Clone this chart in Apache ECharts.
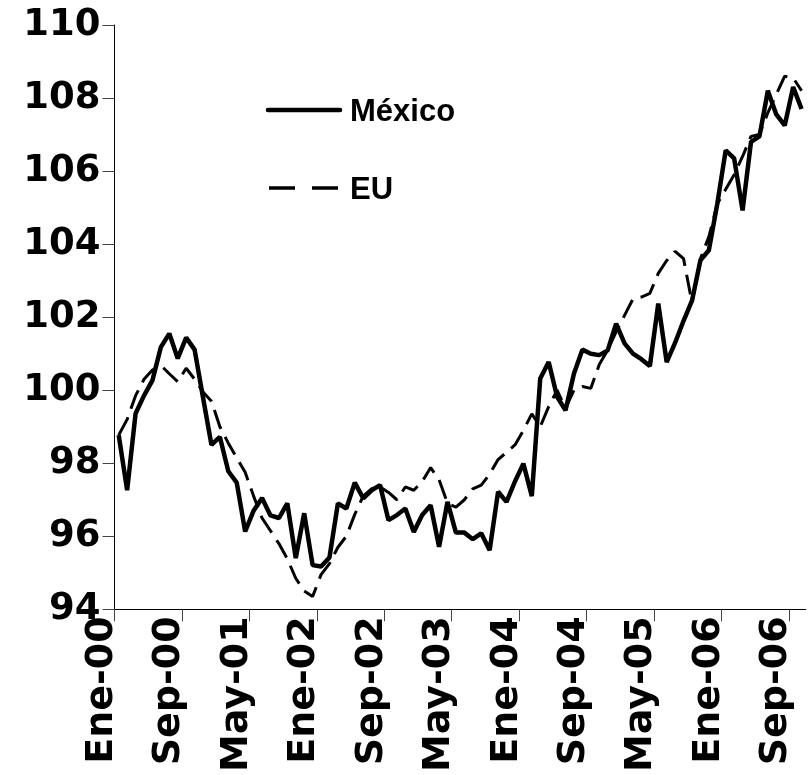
<!DOCTYPE html>
<html><head><meta charset="utf-8">
<script src="https://cdn.jsdelivr.net/npm/echarts@6/dist/echarts.min.js"></script>
<style>html,body{margin:0;padding:0;background:#fff}#c{width:808px;height:775px}</style>
</head><body><div id="c"></div>
<script>
const monthNames = ['Ene','Feb','Mar','Abr','May','Jun','Jul','Ago','Sep','Oct','Nov','Dic'];
// monthly categories Ene-00 .. Oct-06
const categories = [];
for (let y = 0; y < 7; y++) for (let m = 0; m < 12; m++) {
  if (categories.length < 82) categories.push(monthNames[m] + '-0' + y);
}
// tick labels sit on the category boundaries (one more than categories)
const tickLabels = categories.concat(['Nov-06']);

const mexico = [
  98.77, 97.26, 99.36, 99.85, 100.27, 101.18, 101.55, 100.87, 101.44, 101.11,
  99.8, 98.5, 98.72, 97.78, 97.47, 96.13, 96.7, 97.05, 96.57, 96.5,
  96.9, 95.4, 96.63, 95.21, 95.17, 95.42, 96.9, 96.76, 97.47, 97.04,
  97.26, 97.4, 96.44, 96.58, 96.76, 96.12, 96.58, 96.85, 95.71, 96.94,
  96.1, 96.1, 95.92, 96.08, 95.62, 97.22, 96.94, 97.5, 97.99, 97.1,
  100.32, 100.77, 99.82, 99.45, 100.46, 101.11, 101.0, 100.96, 101.09, 101.82,
  101.28, 101.0, 100.85, 100.66, 102.37, 100.77, 101.3, 101.9, 102.45, 103.56,
  103.83, 105.1, 106.57, 106.35, 104.92, 106.8, 106.95, 108.2, 107.55, 107.25,
  108.3, 107.7
];
const eu = [
  98.77, 99.2, 99.85, 100.3, 100.55, 100.68, 100.45, 100.23, 100.6, 100.3,
  99.95, 99.7, 99.0, 98.55, 98.15, 97.75, 97.1, 96.5, 96.15, 95.8,
  95.38, 94.85, 94.5, 94.35, 94.95, 95.25, 95.7, 96.0, 96.6, 97.1,
  97.3, 97.35, 97.2, 97.0, 97.35, 97.26, 97.5, 97.88, 97.55, 96.9,
  96.8, 97.0, 97.3, 97.4, 97.7, 98.1, 98.3, 98.5, 98.9, 99.35,
  99.0, 99.55, 100.0, 99.5, 100.0, 100.1, 100.05, 100.7, 101.1, 101.6,
  102.05, 102.5, 102.55, 102.65, 103.2, 103.55, 103.8, 103.6, 102.4, 103.6,
  104.2, 105.1, 105.5, 105.9, 106.4, 106.95, 107.0, 107.6, 108.1, 108.6,
  108.55, 108.2
];
const seriesNames = ['México', 'EU'];

const axisFont = { fontFamily: 'DejaVu Sans', fontWeight: 'bold', color: '#000' };
const legendFont = 'bold 31px "Liberation Sans", Arial, sans-serif';

const chart = echarts.init(document.getElementById('c'), null, { renderer: 'canvas' });
chart.setOption({
  animation: false,
  backgroundColor: '#fff',
  grid: { left: 114.5, right: 2.2, top: 25, bottom: 165.7, outerBoundsMode: 'none' },
  graphic: [
    { type: 'line', shape: { x1: 268, y1: 110, x2: 340, y2: 110 },
      style: { stroke: '#000', lineWidth: 4.5, lineCap: 'round' } },
    { type: 'text', x: 350, y: 112,
      style: { text: seriesNames[0], font: legendFont, fill: '#000', verticalAlign: 'middle' } },
    { type: 'line', shape: { x1: 269, y1: 188, x2: 338, y2: 188 },
      style: { stroke: '#000', lineWidth: 3.5, lineDash: [26, 17] } },
    { type: 'text', x: 350, y: 190,
      style: { text: seriesNames[1], font: legendFont, fill: '#000', verticalAlign: 'middle' } }
  ],
  xAxis: [
    {
      type: 'category', data: categories, boundaryGap: true,
      axisLine: { show: true, lineStyle: { color: '#000', width: 1 } },
      axisTick: { show: false }, axisLabel: { show: false }, splitLine: { show: false }
    },
    {
      type: 'category', data: tickLabels, boundaryGap: false, position: 'bottom', offset: 0,
      axisLine: { show: false },
      axisTick: { show: true, interval: 7, length: 12, lineStyle: { color: '#444', width: 1 } },
      axisLabel: Object.assign({ interval: 7, rotate: 90, margin: 7, verticalAlign: 'bottom',
        fontSize: 38, lineHeight: 25 }, axisFont),
      splitLine: { show: false }
    }
  ],
  yAxis: {
    type: 'value', min: 94, max: 110, interval: 2,
    axisLine: { show: true, lineStyle: { color: '#000', width: 1 } },
    axisTick: { show: true, length: 12, lineStyle: { color: '#444', width: 1 } },
    splitLine: { show: false },
    axisLabel: Object.assign({ margin: 14, fontSize: 37 }, axisFont)
  },
  series: [
    {
      name: seriesNames[1], type: 'line', data: eu, xAxisIndex: 0, symbol: 'none',
      lineStyle: { color: '#000', width: 3, type: [20, 9] }, itemStyle: { color: '#000' }, z: 2
    },
    {
      name: seriesNames[0], type: 'line', data: mexico, xAxisIndex: 0, symbol: 'none',
      lineStyle: { color: '#000', width: 4.5 }, itemStyle: { color: '#000' }, z: 3
    }
  ]
});
</script></body></html>
